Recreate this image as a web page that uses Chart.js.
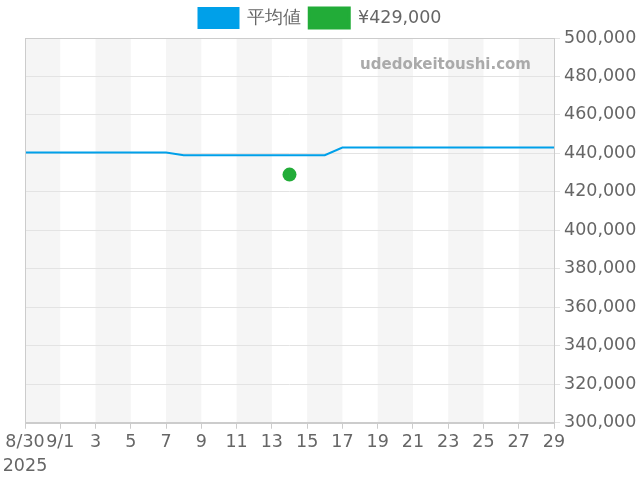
<!DOCTYPE html>
<html>
<head>
<meta charset="utf-8">
<script src="https://cdn.jsdelivr.net/npm/chart.js@4.4.1/dist/chart.umd.min.js"></script>
<style>
html,body{margin:0;padding:0;background:#fff;}
#wrap{width:640px;height:480px;}
</style>
</head>
<body>
<div id="wrap"><canvas id="c" width="640" height="480"></canvas></div>
<script>
const dates = ['8/30','8/31','9/1','9/2','9/3','9/4','9/5','9/6','9/7','9/8','9/9','9/10','9/11','9/12','9/13','9/14','9/15','9/16','9/17','9/18','9/19','9/20','9/21','9/22','9/23','9/24','9/25','9/26','9/27','9/28','9/29'];
const avgPrice = [440500,440500,440500,440500,440500,440500,440500,440500,440500,
                  439100,439100,439100,439100,439100,439100,439100,439100,439100,
                  443100,443100,443100,443100,443100,443100,443100,443100,443100,443100,443100,443100,443100];
const listingPrice = [null,null,null,null,null,null,null,null,null,null,null,null,null,null,null,429000,null,null,null,null,null,null,null,null,null,null,null,null,null,null,null];
const tickLabels = [['8/30','2025'],'9/1','3','5','7','9','11','13','15','17','19','21','23','25','27','29'];
const seriesNames = ['平均値','¥429,000'];
const yTicks = [300000,320000,340000,360000,380000,400000,420000,440000,460000,480000,500000];

const FONT = 'DejaVu Sans';
const FS = 17.5;

const bgPlugin = {
  id: 'bgStripes',
  beforeDraw(chart) {
    const {ctx, chartArea, scales} = chart;
    const x = scales.x;
    ctx.save();
    ctx.fillStyle = '#f5f5f5';
    for (let i = 0; i < dates.length - 1; i += 4) {
      const x0 = x.getPixelForValue(i);
      const x1 = x.getPixelForValue(Math.min(i + 2, dates.length - 1));
      ctx.fillRect(x0, chartArea.top, x1 - x0, chartArea.bottom - chartArea.top);
    }
    ctx.restore();
  },
  beforeDatasetsDraw(chart) {
    const {ctx, chartArea} = chart;
    ctx.save();
    ctx.font = 'bold 15px ' + FONT;
    ctx.fillStyle = '#aaaaaa';
    ctx.textAlign = 'right';
    ctx.textBaseline = 'middle';
    ctx.fillText('udedokeitoushi.com', chartArea.right - 23, chartArea.top + 27);
    ctx.restore();
  },
  afterDraw(chart) {
    const {ctx, chartArea} = chart;
    ctx.save();
    ctx.strokeStyle = '#cccccc';
    ctx.lineWidth = 1;
    ctx.strokeRect(Math.round(chartArea.left) + 0.5, Math.round(chartArea.top) + 0.5,
      Math.round(chartArea.right - chartArea.left), Math.round(chartArea.bottom - chartArea.top));
    ctx.restore();
  }
};

new Chart(document.getElementById('c'), {
  type: 'line',
  data: {
    labels: dates,
    datasets: [
      {
        label: seriesNames[0],
        data: avgPrice,
        borderColor: '#00a0e9',
        backgroundColor: '#00a0e9',
        borderWidth: 2,
        pointRadius: 0,
        pointHoverRadius: 0,
        tension: 0,
        fill: false
      },
      {
        label: seriesNames[1],
        data: listingPrice,
        borderColor: '#22ac38',
        backgroundColor: '#22ac38',
        showLine: false,
        pointRadius: 7,
        pointBorderWidth: 0,
        spanGaps: false
      }
    ]
  },
  options: {
    responsive: false,
    animation: false,
    devicePixelRatio: 1,
    layout: { padding: { left: 0, right: 0, top: 0, bottom: 0 } },
    plugins: {
      legend: {
        position: 'top',
        labels: {
          boxWidth: 40,
          boxHeight: 20,
          color: '#666',
          font: { family: FONT, size: FS },
          padding: 8
        }
      },
      tooltip: { enabled: false }
    },
    scales: {
      x: {
        type: 'category',
        offset: false,
        grid: { display: true, drawOnChartArea: false, drawTicks: true, tickLength: 6, color: '#cccccc' },
        border: { display: true, color: '#cccccc' },
        afterBuildTicks(axis) {
          axis.ticks = axis.ticks.filter((t) => t.value % 2 === 0);
        },
        afterFit(axis) {
          axis.paddingLeft = 25;
        },
        ticks: {
          autoSkip: false,
          maxRotation: 0,
          color: '#666',
          font: { family: FONT, size: FS, lineHeight: 1.35 },
          padding: 2,
          callback: function(value) { return tickLabels[value / 2]; }
        }
      },
      y: {
        position: 'right',
        min: 300000,
        max: 500000,
        afterBuildTicks(axis) {
          axis.ticks = yTicks.map(v => ({ value: v }));
        },
        afterFit(axis) {
          axis.width = 86;
        },
        grid: { color: '#e3e3e3', tickLength: 6, drawTicks: true },
        border: { display: true, color: '#cccccc' },
        ticks: {
          color: '#666',
          font: { family: FONT, size: FS },
          padding: 4,
          callback: (v) => v.toLocaleString('en-US')
        }
      }
    }
  },
  plugins: [bgPlugin]
});
</script>
</body>
</html>
